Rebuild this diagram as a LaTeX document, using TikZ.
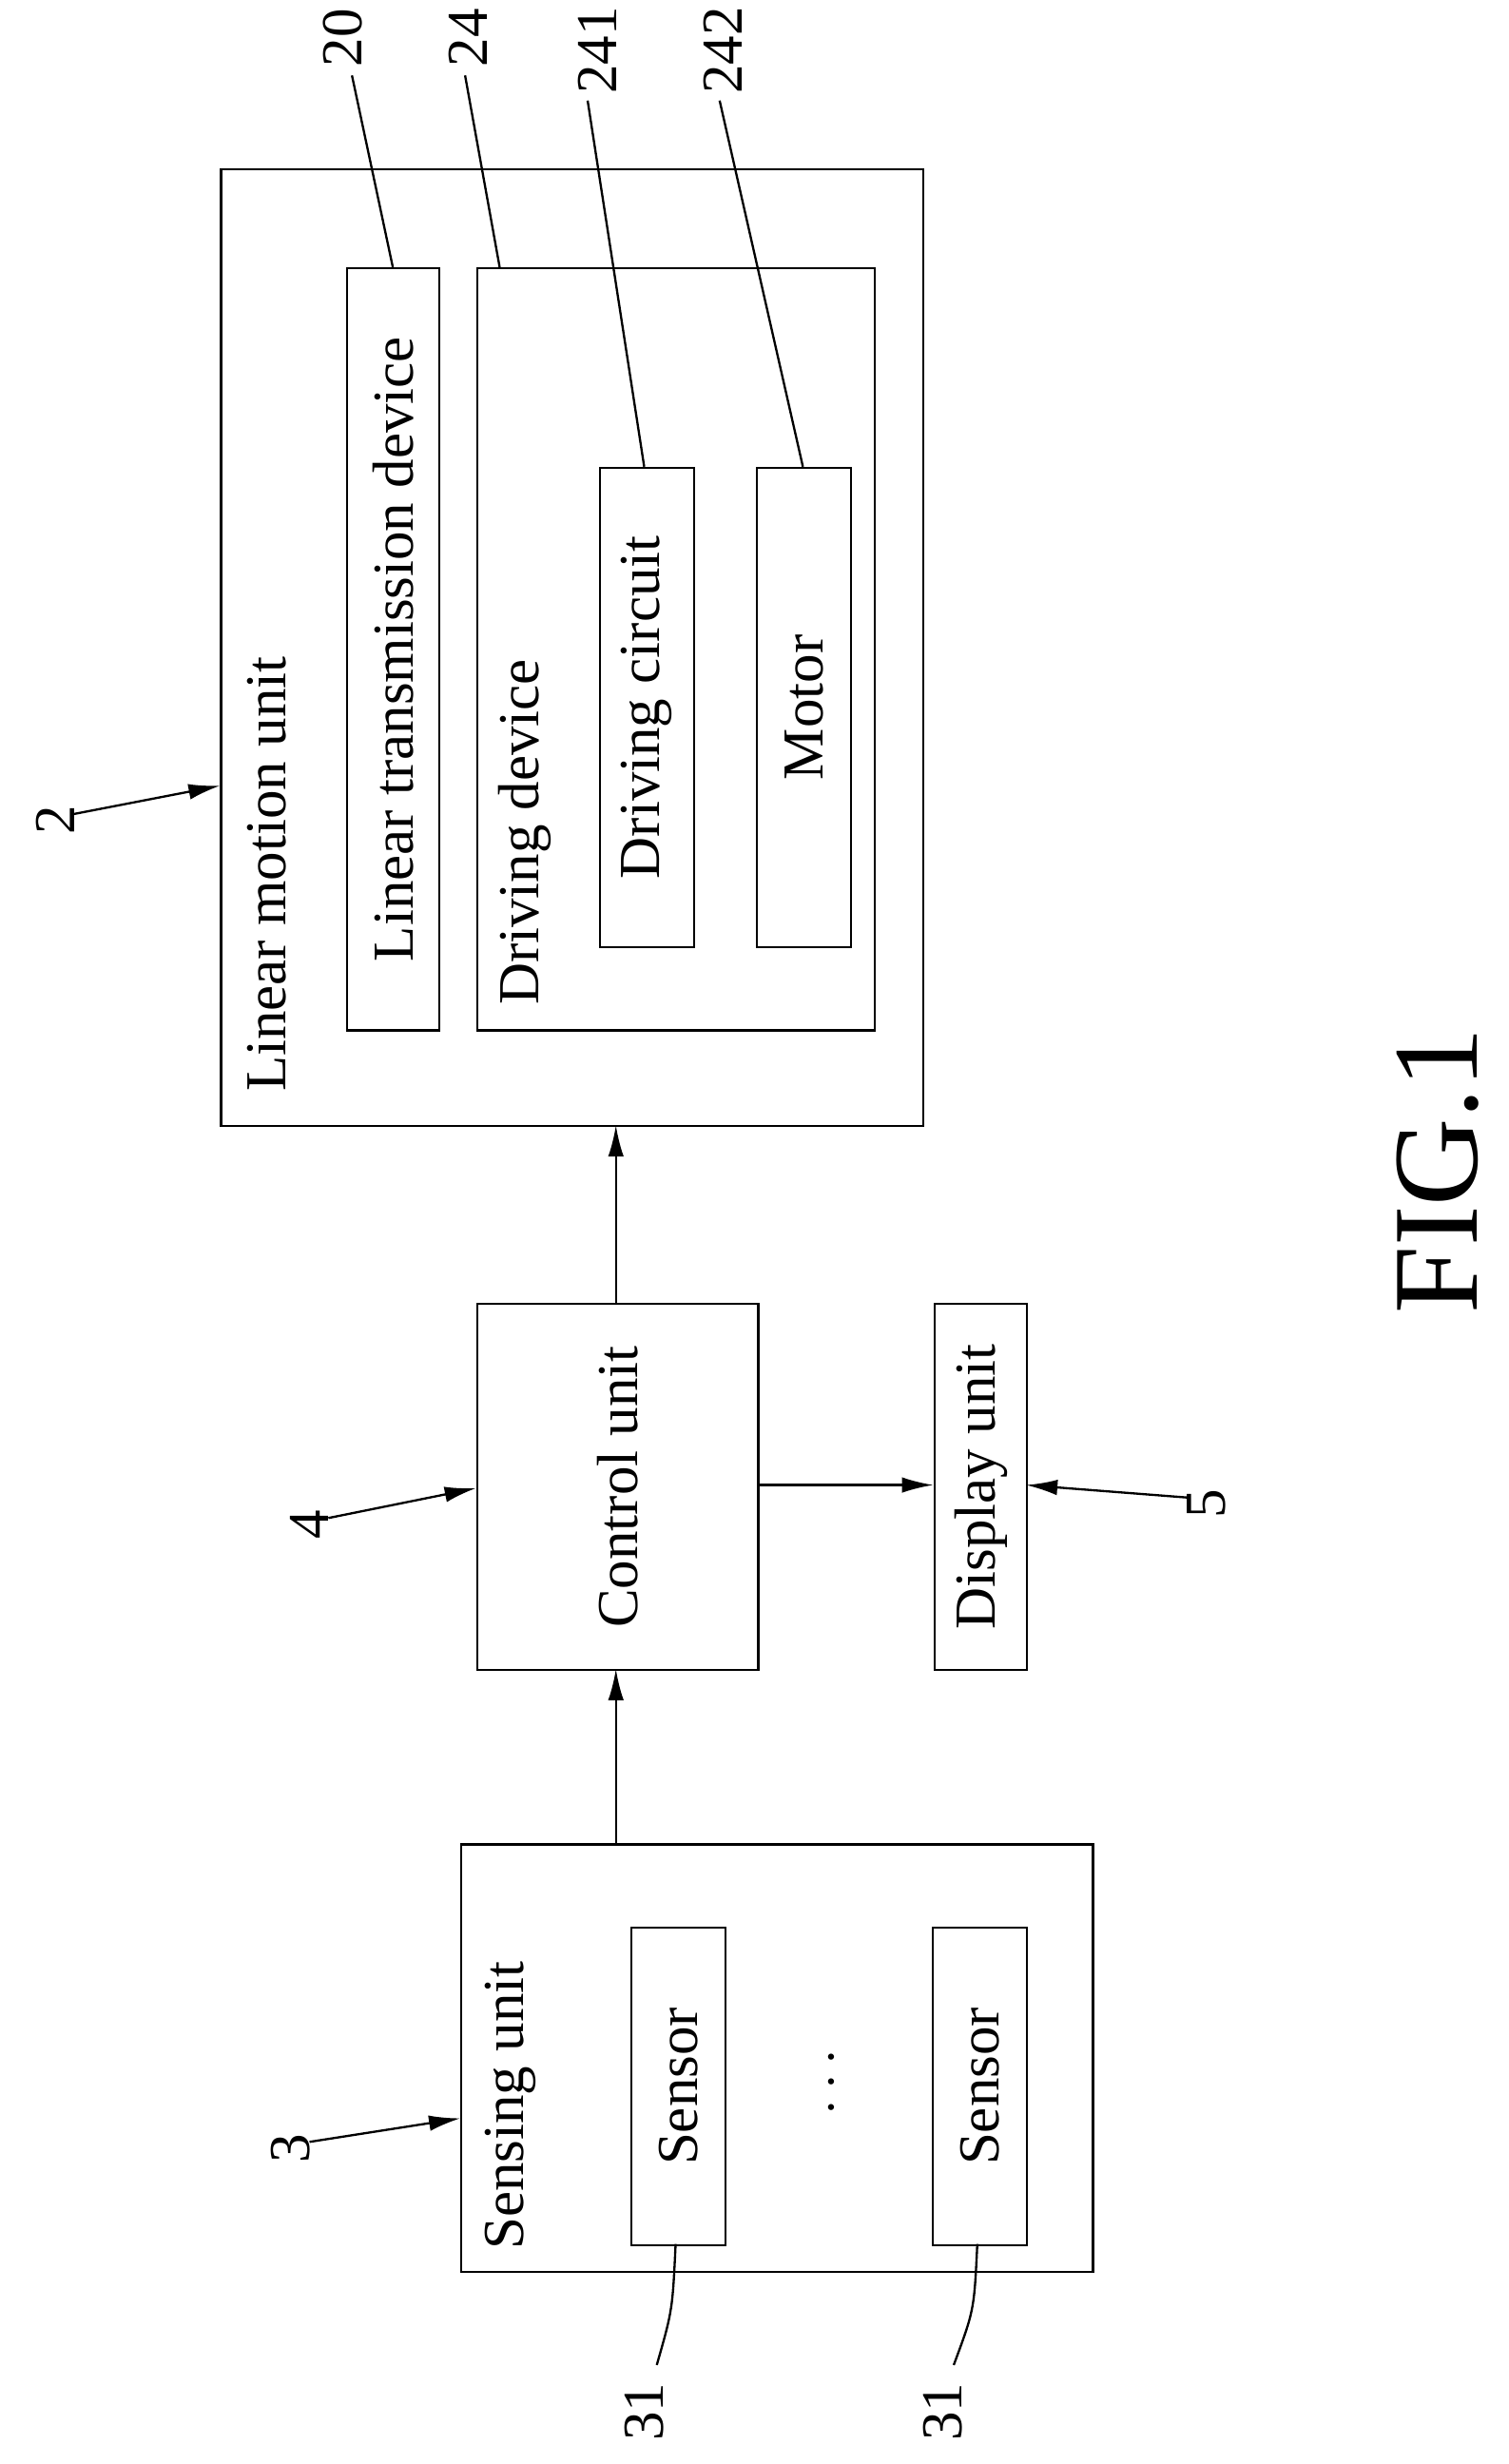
\documentclass[tikz,border=0pt]{standalone}
\usepackage{fontspec}
\setmainfont{Liberation Serif}
\usetikzlibrary{arrows.meta, positioning, calc}

\begin{document}
\begin{tikzpicture}[
  x=0.02cm, y=-0.02cm,
  box/.style={draw, thick, inner sep=0pt, anchor=north west},
  txt/.style={rotate=90, font=\fontsize{21}{23}\selectfont, inner sep=0pt},
  refnum/.style={rotate=90, font=\fontsize{21}{23}\selectfont, inner sep=1pt},
  >={Latex[length=4mm, width=2mm]}
]
\useasboundingbox (0,0) rectangle (960,1568);
% linear motion unit
\node[box, minimum width=8.94cm, minimum height=12.18cm] (Lmu) at (140,107) {};
\node[txt, anchor=west] (LmuT) at (170,695) {Linear motion unit};
\node[box, minimum width=1.18cm, minimum height=9.7cm] (Ltd) at (220,170) {};
\node[txt] (LtdT) at (Ltd.center) {Linear transmission device};
\node[box, minimum width=5.06cm, minimum height=9.7cm] (Drv) at (303,170) {};
\node[txt, anchor=west] (DrvT) at (334,640) {Driving device};
\node[box, minimum width=1.2cm, minimum height=6.1cm] (Dc) at (381,297) {};
\node[txt] (DcT) at (Dc.center) {Driving circuit};
\node[box, minimum width=1.2cm, minimum height=6.1cm] (Mot) at (481,297) {};
\node[txt] (MotT) at (Mot.center) {Motor};
% control and display
\node[box, minimum width=3.58cm, minimum height=4.66cm] (Ctl) at (303,829) {};
\node[txt] (CtlT) at (Ctl.center) {Control unit};
\node[box, minimum width=1.18cm, minimum height=4.66cm] (Dsp) at (594,829) {};
\node[txt] (DspT) at (Dsp.center) {Display unit};
% sensing unit
\node[box, minimum width=8.04cm, minimum height=5.44cm] (Sen) at (293,1173) {};
\node[txt, anchor=west] (SenT) at (325,1432) {Sensing unit};
\node[box, minimum width=1.2cm, minimum height=4.04cm] (S1) at (401,1226) {};
\node[txt] (S1T) at (S1.center) {Sensor};
\node[box, minimum width=1.2cm, minimum height=4.04cm] (S2) at (593,1226) {};
\node[txt] (S2T) at (S2.center) {Sensor};
\node[txt] (Dots) at (530,1325) {$\cdots$};

% connectors
\coordinate (senTop) at (392,1173);
\coordinate (ctlBot) at (392,1062);
\coordinate (ctlTop) at (392,829);
\coordinate (lmuBot) at (392,716);
\coordinate (ctlR) at (482,945);
\coordinate (dspL) at (594,945);
\draw[thick,->] (senTop) -- (ctlBot);
\draw[thick,->] (ctlTop) -- (lmuBot);
\draw[thick,->] (ctlR) -- (dspL);

% reference numerals
\node[refnum] (n2) at (35,522) {2};
\node[refnum] (n3) at (185,1367) {3};
\node[refnum] (n4) at (197,970) {4};
\node[refnum] (n5) at (768,957) {5};
\coordinate (a2) at (47,518);
\coordinate (a3) at (197,1363);
\coordinate (a4) at (209,966);
\coordinate (a5) at (756,953);
\draw[thick,->] (a2) -- (140,500);
\draw[thick,->] (a3) -- (293,1348);
\draw[thick,->] (a4) -- (303,947);
\draw[thick,->] (a5) -- (653,945);
\node[refnum] (n20) at (218,24) {20};
\node[refnum] (n24) at (298,24) {24};
\node[refnum] (n241) at (380,32) {241};
\node[refnum] (n242) at (460,32) {242};
\node[refnum] (n31a) at (410,1535) {31};
\node[refnum] (n31b) at (600,1535) {31};
\draw[thick] (224,48) -- (250,170);
\draw[thick] (296,48) -- (318,170);
\draw[thick] (374,64) -- (410,297);
\draw[thick] (458,64) -- (511,297);
\draw[thick] (430,1428) .. controls (428,1470) .. (418,1505);
\draw[thick] (622,1428) .. controls (620,1470) .. (607,1505);

\node[rotate=90, font=\fontsize{44}{48}\selectfont] (Fig) at (915,745) {FIG.1};
\end{tikzpicture}
\end{document}
